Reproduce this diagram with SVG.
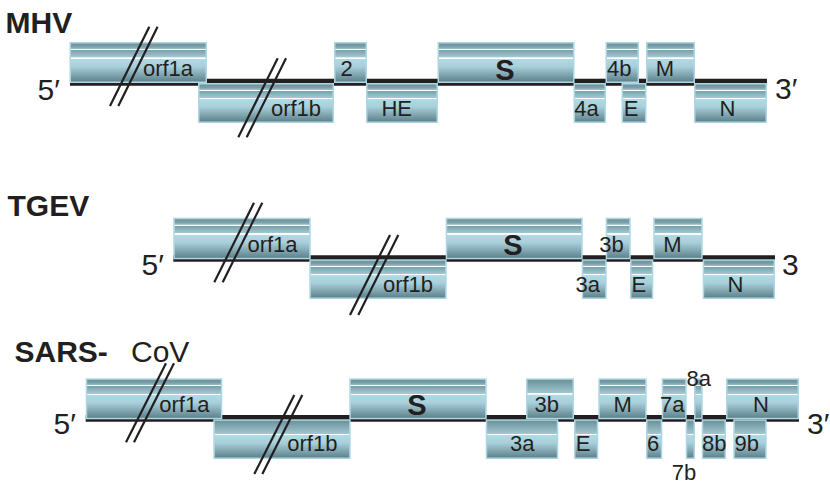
<svg xmlns="http://www.w3.org/2000/svg" width="830" height="485" viewBox="0 0 830 485">
<defs>
<linearGradient id="gA" x1="0" y1="0" x2="0" y2="1">
<stop offset="0" stop-color="#6a8e97"/>
<stop offset="0.10" stop-color="#7aa0a9"/>
<stop offset="0.15" stop-color="#98bec8"/>
<stop offset="0.155" stop-color="#ffffff"/>
<stop offset="0.18" stop-color="#ffffff"/>
<stop offset="0.185" stop-color="#7a9fa8"/>
<stop offset="0.37" stop-color="#a3cad5"/>
<stop offset="0.375" stop-color="#ffffff"/>
<stop offset="0.40" stop-color="#ffffff"/>
<stop offset="0.405" stop-color="#b2d9e4"/>
<stop offset="0.60" stop-color="#a8cfda"/>
<stop offset="1" stop-color="#5b7f88"/>
</linearGradient>
<linearGradient id="gB" x1="0" y1="0" x2="0" y2="1">
<stop offset="0" stop-color="#6a8e97"/>
<stop offset="0.36" stop-color="#a0c7d1"/>
<stop offset="0.365" stop-color="#ffffff"/>
<stop offset="0.39" stop-color="#ffffff"/>
<stop offset="0.395" stop-color="#b2d9e4"/>
<stop offset="0.60" stop-color="#a8cfda"/>
<stop offset="1" stop-color="#5b7f88"/>
</linearGradient>
</defs>
<style>
.a{fill:url(#gA);stroke:#acd7e3;stroke-width:1.5}
.b{fill:url(#gB);stroke:#acd7e3;stroke-width:1.5}
text{font-family:"Liberation Sans","Helvetica","Arial",sans-serif;fill:#231f20}
.l{font-size:22px;text-anchor:middle}
.s{font-size:29px;font-weight:bold;text-anchor:middle}
.t{font-size:30px;font-weight:bold}
.e{font-size:30px}
.g{stroke:#231f20;fill:none}
.k{stroke:#231f20;stroke-width:2.2;fill:none}
</style>

<g id="titles">
<text class="t" x="5.5" y="33.3">MHV</text>
<text class="t" x="7.5" y="215.5">TGEV</text>
<text class="t" x="14.5" y="361.7">SARS-</text>
<text class="e" x="131" y="361.7">CoV</text>
<text class="e" x="37.5" y="99.5">5′</text>
<text class="e" x="775" y="98.5">3′</text>
<text class="e" x="141.5" y="275">5′</text>
<text class="e" x="782" y="275">3</text>
<text class="e" x="53.5" y="434">5′</text>
<text class="e" x="807" y="434">3′</text>
</g>

<g id="connectors">
<line class="g" x1="70" y1="82.2" x2="767" y2="82.2" stroke-width="7"/>
<line class="g" x1="173.3" y1="258.5" x2="775" y2="258.5" stroke-width="6.4"/>
<line class="g" x1="85.7" y1="418.3" x2="799" y2="418.3" stroke-width="6.7"/>
</g>

<g id="mhv-orf1a"><rect class="a" x="70.25" y="42.75" width="136" height="39.5"/><text class="l" x="168" y="76">orf1a</text></g>
<g id="mhv-orf1b"><rect class="a" x="198.75" y="83.75" width="134.5" height="38.5"/><text class="l" x="296" y="116">orf1b</text></g>
<g id="mhv-2"><rect class="a" x="334.75" y="42.75" width="31.5" height="39.5"/><text class="l" x="346.5" y="76">2</text></g>
<g id="mhv-HE"><rect class="a" x="366.75" y="83.75" width="70.5" height="38.5"/><text class="l" x="396.7" y="116">HE</text></g>
<g id="mhv-S"><rect class="a" x="438.25" y="42.75" width="135.5" height="39.5"/><text class="s" x="505" y="80">S</text></g>
<g id="mhv-4a"><rect class="a" x="574.25" y="83.75" width="31" height="38.5"/><text class="l" x="586.5" y="116">4a</text></g>
<g id="mhv-4b"><rect class="a" x="606.25" y="42.75" width="32" height="39.5"/><text class="l" x="619.3" y="76">4b</text></g>
<g id="mhv-E"><rect class="a" x="622.25" y="83.75" width="23.5" height="38.5"/><text class="l" x="631" y="116">E</text></g>
<g id="mhv-M"><rect class="a" x="646.75" y="42.75" width="47.5" height="39.5"/><text class="l" x="665" y="76">M</text></g>
<g id="mhv-N"><rect class="a" x="694.75" y="83.75" width="71.5" height="38.5"/><text class="l" x="727.5" y="116">N</text></g>

<g id="tgev-orf1a"><rect class="a" x="174.05" y="218.45" width="135.9" height="40.1"/><text class="l" x="272.5" y="252">orf1a</text></g>
<g id="tgev-orf1b"><rect class="a" x="310.05" y="260.05" width="135.9" height="38.2"/><text class="l" x="408" y="292">orf1b</text></g>
<g id="tgev-S"><rect class="a" x="446.45" y="218.45" width="135.5" height="40.1"/><text class="s" x="513" y="255">S</text></g>
<g id="tgev-3a"><rect class="a" x="582.45" y="260.05" width="23.5" height="38.2"/><text class="l" x="587.7" y="292">3a</text></g>
<g id="tgev-3b"><rect class="a" x="606.45" y="218.45" width="23.5" height="40.1"/><text class="l" x="611.5" y="252">3b</text></g>
<g id="tgev-E"><rect class="a" x="630.75" y="260.05" width="21.8" height="38.2"/><text class="l" x="638.8" y="292">E</text></g>
<g id="tgev-M"><rect class="a" x="654.05" y="218.45" width="47.9" height="40.1"/><text class="l" x="672.5" y="252">M</text></g>
<g id="tgev-N"><rect class="a" x="703.45" y="260.05" width="70.8" height="38.2"/><text class="l" x="735.5" y="292">N</text></g>

<g id="sars-orf1a"><rect class="a" x="86.45" y="379.05" width="135.1" height="39.5"/><text class="l" x="184.3" y="411.7">orf1a</text></g>
<g id="sars-orf1b"><rect class="b" x="214.05" y="420.05" width="135.9" height="38.2"/><text class="l" x="312.3" y="451">orf1b</text></g>
<g id="sars-S"><rect class="a" x="350.05" y="379.05" width="135.9" height="39.5"/><text class="s" x="417" y="414.5">S</text></g>
<g id="sars-3a"><rect class="b" x="486.45" y="420.05" width="71.1" height="38.2"/><text class="l" x="522.3" y="451">3a</text></g>
<g id="sars-3b"><rect class="b" x="526.75" y="379.05" width="46.5" height="39.5"/><text class="l" x="546.7" y="411.7">3b</text></g>
<g id="sars-E"><rect class="b" x="574.75" y="420.05" width="22.8" height="38.2"/><text class="l" x="583" y="451">E</text></g>
<g id="sars-M"><rect class="a" x="599.05" y="379.05" width="46.9" height="39.5"/><text class="l" x="622.7" y="411.7">M</text></g>
<g id="sars-6"><rect class="b" x="646.75" y="420.05" width="14.8" height="38.2"/><text class="l" x="653.2" y="451">6</text></g>
<g id="sars-7a"><rect class="a" x="662.45" y="379.05" width="23.5" height="39.5"/><text class="l" x="672.3" y="411.7">7a</text></g>
<g id="sars-7b"><rect class="b" x="686.45" y="420.05" width="7.8" height="38.2"/><text class="l" x="684" y="480">7b</text></g>
<g id="sars-8a"><rect class="a" x="694.75" y="379.05" width="7.2" height="39.5"/><text class="l" x="698.7" y="386">8a</text></g>
<g id="sars-8b"><rect class="b" x="702.45" y="420.05" width="22.8" height="38.2"/><text class="l" x="714.2" y="451">8b</text></g>
<g id="sars-N"><rect class="a" x="726.75" y="379.05" width="71.5" height="39.5"/><text class="l" x="761" y="411.7">N</text></g>
<g id="sars-9b"><rect class="b" x="734.05" y="420.05" width="31.9" height="38.2"/><text class="l" x="746.7" y="451">9b</text></g>

<g id="breaks">
<line class="k" x1="110" y1="106" x2="149.3" y2="26.7"/>
<line class="k" x1="118.3" y1="106" x2="157.6" y2="26.7"/>
<line class="k" x1="238.3" y1="137.3" x2="277.7" y2="58.3"/>
<line class="k" x1="246.7" y1="137.3" x2="286" y2="58.3"/>
<line class="k" x1="214.3" y1="282.3" x2="254" y2="202.7"/>
<line class="k" x1="222.7" y1="282.3" x2="262.3" y2="202.7"/>
<line class="k" x1="350" y1="315" x2="390" y2="235"/>
<line class="k" x1="358.3" y1="315" x2="398.3" y2="235"/>
<line class="k" x1="126" y1="442.3" x2="166" y2="363.3"/>
<line class="k" x1="134" y1="442.3" x2="174" y2="363.3"/>
<line class="k" x1="254.3" y1="474" x2="294.3" y2="395"/>
<line class="k" x1="262.3" y1="474" x2="302.3" y2="395"/>
</g>
</svg>
